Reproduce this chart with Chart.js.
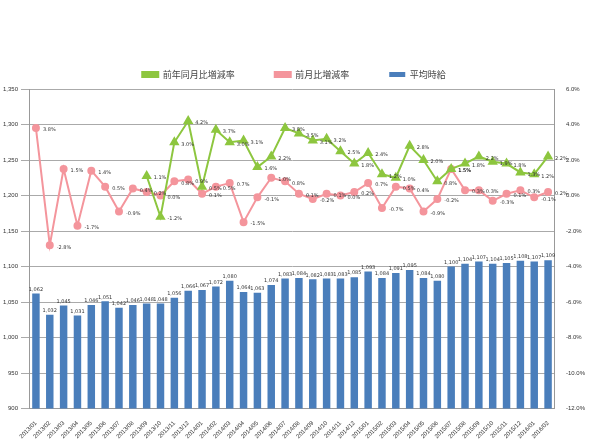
<!DOCTYPE html>
<html><head><meta charset="utf-8">
<script src="https://cdn.jsdelivr.net/npm/chart.js@4"></script>
<style>html,body{margin:0;padding:0;background:#fff}</style>
</head><body><canvas id="c" width="590" height="443"></canvas>
<script>
const labels=["2013/01","2013/02","2013/03","2013/04","2013/05","2013/06","2013/07","2013/08","2013/09","2013/10","2013/11","2013/12","2014/01","2014/02","2014/03","2014/04","2014/05","2014/06","2014/07","2014/08","2014/09","2014/10","2014/11","2014/12","2015/01","2015/02","2015/03","2015/04","2015/05","2015/06","2015/07","2015/08","2015/09","2015/10","2015/11","2015/12","2016/01","2016/02"];
const wage=[1062,1032,1045,1031,1046,1051,1042,1046,1048,1048,1056,1066,1067,1072,1080,1064,1063,1074,1083,1084,1082,1083,1083,1085,1093,1084,1091,1095,1084,1080,1100,1104,1107,1104,1105,1108,1107,1109];
const yoy=[null,null,null,null,null,null,null,null,1.1,-1.2,3.0,4.2,0.5,3.7,3.0,3.1,1.6,2.2,3.8,3.5,3.1,3.2,2.5,1.8,2.4,1.2,1.0,2.8,2.0,0.8,1.5,1.8,2.2,1.9,1.8,1.3,1.2,2.2];
const mom=[3.8,-2.8,1.5,-1.7,1.4,0.5,-0.9,0.4,0.2,0.0,0.8,0.9,0.1,0.5,0.7,-1.5,-0.1,1.0,0.8,0.1,-0.2,0.1,0.0,0.2,0.7,-0.7,0.5,0.4,-0.9,-0.2,1.5,0.3,0.3,-0.3,0.1,0.3,-0.1,0.2];
const lbl={id:'lbl',afterDatasetsDraw(ch){const c=ch.ctx;c.save();c.font='5px "DejaVu Sans"';c.fillStyle='#333';
 ch.data.datasets.forEach((d,i)=>{ch.getDatasetMeta(i).data.forEach((el,j)=>{const v=d.data[j];if(v==null)return;
  if(i===0){c.textAlign='center';c.fillText(v.toLocaleString('en-US'),el.x,el.y-4);}
  else{c.textAlign='left';c.fillText(v.toFixed(1)+'%',el.x+7,el.y+2);}});});c.restore();}};
new Chart(document.getElementById('c'),{
 data:{labels,datasets:[
  {type:'bar',label:'平均時給',data:wage,backgroundColor:'#4a7ebb',yAxisID:'y',order:3,barPercentage:0.6,categoryPercentage:0.9},
  {type:'line',label:'前年同月比増減率',data:yoy,borderColor:'#8dc63f',backgroundColor:'#8dc63f',pointStyle:'triangle',pointRadius:4,borderWidth:2,yAxisID:'y1',order:1},
  {type:'line',label:'前月比増減率',data:mom,borderColor:'#f4959c',backgroundColor:'#f4959c',pointStyle:'circle',pointRadius:3,borderWidth:2,yAxisID:'y1',order:2}
 ]},
 options:{responsive:false,animation:false,layout:{padding:{left:0,right:2,top:30,bottom:0}},
  plugins:{legend:{position:'top',labels:{font:{size:9,family:'"Noto Sans CJK JP"'},color:'#444',boxWidth:16,boxHeight:5,padding:40}},tooltip:{enabled:false}},
  scales:{
   x:{grid:{display:false},ticks:{font:{size:6},color:'#333',maxRotation:45,minRotation:45,autoSkip:false},border:{color:'#999'}},
   y:{position:'left',min:900,max:1350,ticks:{stepSize:50,font:{size:6},color:'#333',callback:v=>v.toLocaleString('en-US')},grid:{color:'#aaa'},border:{color:'#999'}},
   y1:{position:'right',min:-12,max:6,ticks:{stepSize:2,font:{size:6},color:'#333',callback:v=>v.toFixed(1)+'%'},grid:{display:false},border:{color:'#999'}}
  }},
 plugins:[lbl]});
</script></body></html>
